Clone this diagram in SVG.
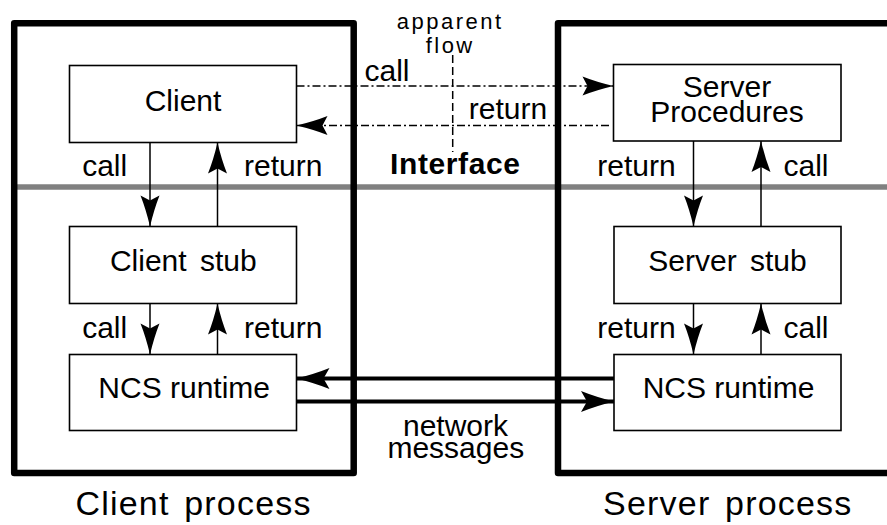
<svg xmlns="http://www.w3.org/2000/svg" width="887" height="525" viewBox="0 0 887 525">
<style>
text{font-family:"Liberation Sans",Arial,sans-serif;font-size:30px;fill:#000;text-anchor:middle}
.box{fill:#fff;stroke:#000;stroke-width:1.6}
.proc{fill:none;stroke:#000;stroke-width:6.5;stroke-linejoin:round}
.thin{stroke:#000;stroke-width:1.5;fill:none}
.dd{stroke:#000;stroke-width:1.5;fill:none;stroke-dasharray:8 3 2 3}
.thick{stroke:#000;stroke-width:4;fill:none}
.small{font-size:22px;letter-spacing:2.5px}
.big{font-size:34px;letter-spacing:1.2px;word-spacing:4px}
</style>
<defs>
<marker id="ah" markerUnits="userSpaceOnUse" viewBox="0 -10 32 20" refX="31" refY="0" markerWidth="32" markerHeight="20" orient="auto" overflow="visible">
<path d="M31,0 Q14,-4 0,-9.5 L5,0 L0,9.5 Q14,4 31,0 Z" fill="#000"/>
</marker>
<marker id="ahb" markerUnits="userSpaceOnUse" viewBox="0 -11 34 22" refX="33" refY="0" markerWidth="34" markerHeight="22" orient="auto" overflow="visible">
<path d="M33,0 Q15,-4.5 0,-10.5 L6,0 L0,10.5 Q15,4.5 33,0 Z" fill="#000"/>
</marker>
</defs>
<rect width="887" height="525" fill="#fff"/>
<line x1="17" y1="187" x2="887" y2="187" stroke="#808080" stroke-width="5.5"/>
<g id="client-process">
<rect class="proc" x="14.2" y="23.3" width="339.5" height="449.7"/>
<text class="big" x="193.6" y="515">Client process</text>
</g>
<g id="server-process">
<rect class="proc" x="558" y="23.3" width="400" height="449.7"/>
<text class="big" x="727.8" y="515">Server process</text>
</g>
<g id="client">
<rect class="box" x="69.5" y="65.5" width="227" height="77"/>
<text x="183" y="110.7">Client</text>
</g>
<g id="client-stub">
<rect class="box" x="69.5" y="226.5" width="227" height="77"/>
<text x="183.3" y="270.7" style="word-spacing:5px">Client stub</text>
</g>
<g id="client-runtime">
<rect class="box" x="69.5" y="354.5" width="227" height="76"/>
<text x="184.2" y="398.3">NCS runtime</text>
</g>
<g id="server-procedures">
<rect class="box" x="613.5" y="64.5" width="227.5" height="76.5"/>
<text x="727" y="97.3">Server</text>
<text x="727" y="121.7">Procedures</text>
</g>
<g id="server-stub">
<rect class="box" x="614" y="226.5" width="227" height="77"/>
<text x="727.5" y="270.7" style="word-spacing:5px">Server stub</text>
</g>
<g id="server-runtime">
<rect class="box" x="614" y="354.5" width="227" height="76"/>
<text x="728.5" y="398.3">NCS runtime</text>
</g>
<g id="interface">
<line class="thin" x1="452.7" y1="55" x2="452.7" y2="152" stroke-dasharray="8 4"/>
<text class="small" x="450.2" y="29">apparent</text>
<text class="small" x="450.2" y="53.3">flow</text>
<text x="455.3" y="174.3" style="font-weight:bold;letter-spacing:0.6px">Interface</text>
</g>
<g id="connectors">
<line class="thin" x1="150" y1="142.5" x2="150" y2="226.5" marker-end="url(#ah)"/>
<line class="thin" x1="217.5" y1="226.5" x2="217.5" y2="142.5" marker-end="url(#ah)"/>
<line class="thin" x1="150" y1="303.5" x2="150" y2="354.5" marker-end="url(#ah)"/>
<line class="thin" x1="217.5" y1="354.5" x2="217.5" y2="303.5" marker-end="url(#ah)"/>
<line class="thin" x1="693.5" y1="141" x2="693.5" y2="226.5" marker-end="url(#ah)"/>
<line class="thin" x1="761" y1="226.5" x2="761" y2="141" marker-end="url(#ah)"/>
<line class="thin" x1="693.5" y1="303.5" x2="693.5" y2="354.5" marker-end="url(#ah)"/>
<line class="thin" x1="761" y1="354.5" x2="761" y2="303.5" marker-end="url(#ah)"/>
<line class="dd" x1="296.5" y1="86" x2="613.5" y2="86" marker-end="url(#ah)"/>
<line class="dd" x1="609" y1="125.5" x2="296.5" y2="125.5" marker-end="url(#ah)"/>
<line class="thick" x1="614" y1="378.5" x2="296.5" y2="378.5" marker-end="url(#ahb)"/>
<line class="thick" x1="296.5" y1="401.5" x2="614" y2="401.5" marker-end="url(#ahb)"/>
<text x="104.7" y="175.7">call</text>
<text x="283.3" y="175.7">return</text>
<text x="104.7" y="337.7">call</text>
<text x="283.3" y="337.7">return</text>
<text x="636.5" y="175.7">return</text>
<text x="806" y="175.7">call</text>
<text x="636.5" y="337.7">return</text>
<text x="806" y="337.7">call</text>
<text x="387" y="81">call</text>
<text x="508" y="119.3">return</text>
<text x="455.5" y="436">network</text>
<text x="455.8" y="458.3">messages</text>
</g>
</svg>
